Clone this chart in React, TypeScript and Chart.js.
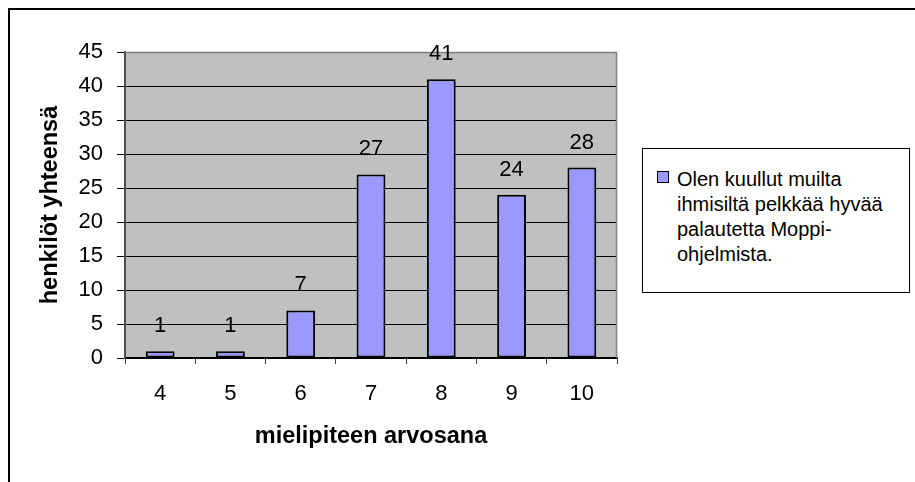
import React, { useEffect, useRef } from "react";
import { Chart, registerables } from "chart.js";

Chart.register(...registerables);

const categories = ["4", "5", "6", "7", "8", "9", "10"];
const values = [1, 1, 7, 27, 41, 24, 28];
const yMin = 0;
const yMax = 45;
const yStep = 5;
const seriesLabel = "Olen kuullut muilta ihmisiltä pelkkää hyvää palautetta Moppi-ohjelmista.";
const legendLines = ["Olen kuullut muilta", "ihmisiltä pelkkää hyvää", "palautetta Moppi-", "ohjelmista."];
const xTitle = "mielipiteen arvosana";
const yTitle = "henkilöt yhteensä";

const FONT = '"Liberation Sans", Arial, sans-serif';

const plotBackground = {
  id: "plotBackground",
  beforeDraw(chart: any) {
    const { ctx, chartArea } = chart;
    ctx.save();
    ctx.fillStyle = "#C0C0C0";
    ctx.fillRect(chartArea.left, chartArea.top, chartArea.right - chartArea.left, chartArea.bottom - chartArea.top);
    ctx.restore();
  },
  beforeDatasetsDraw(chart: any) {
    const { ctx, chartArea } = chart;
    ctx.save();
    ctx.strokeStyle = "#808080";
    ctx.lineWidth = 1.5;
    ctx.beginPath();
    ctx.moveTo(chartArea.left, chartArea.top + 0.5);
    ctx.lineTo(chartArea.right - 0.5, chartArea.top + 0.5);
    ctx.lineTo(chartArea.right - 0.5, chartArea.bottom);
    ctx.stroke();
    ctx.restore();
  },
};

const dataLabels = {
  id: "dataLabels",
  afterDatasetsDraw(chart: any) {
    const { ctx } = chart;
    const meta = chart.getDatasetMeta(0);
    ctx.save();
    ctx.fillStyle = "#000";
    ctx.font = `22px ${FONT}`;
    ctx.textAlign = "center";
    ctx.textBaseline = "middle";
    meta.data.forEach((bar: any, i: number) => {
      ctx.fillText(String(values[i]), bar.x, bar.y - 25);
    });
    ctx.restore();
  },
};

export default function App() {
  const canvasRef = useRef<HTMLCanvasElement | null>(null);

  useEffect(() => {
    if (!canvasRef.current) return;
    const chart = new Chart(canvasRef.current, {
      type: "bar",
      data: {
        labels: categories,
        datasets: [
          {
            label: seriesLabel,
            data: values,
            backgroundColor: "#9999FF",
            borderColor: "#000000",
            borderWidth: 2,
            borderSkipped: false,
            categoryPercentage: 1,
            barPercentage: 0.41,
          },
        ],
      },
      options: {
        responsive: false,
        animation: false,
        layout: { padding: { left: 36, top: 52, right: 298, bottom: 31 } },
        plugins: {
          legend: { display: false },
          tooltip: { enabled: false },
        },
        scales: {
          x: {
            grid: {
              offset: true,
              drawOnChartArea: false,
              drawTicks: true,
              tickLength: 6,
              color: "#404040",
            },
            border: { color: "#000000", width: 1.5 },
            ticks: { padding: 17, color: "#000", font: { family: FONT, size: 22 } },
            title: {
              display: true,
              text: xTitle,
              color: "#000",
              padding: 0,
              font: { family: FONT, size: 23.5, weight: "bold" },
            },
            afterFit: (s: any) => {
              s.height = 93;
            },
          },
          y: {
            min: yMin,
            max: yMax,
            ticks: { stepSize: yStep, padding: 14, color: "#000", font: { family: FONT, size: 22 } },
            grid: {
              color: (c: any) => (c.tick && c.tick.value === yMax ? "rgba(0,0,0,0)" : "#000000"),
              tickColor: "#000000",
              tickLength: 8,
              lineWidth: 1,
            },
            border: { color: "#4d4d4d", width: 2 },
            title: {
              display: true,
              text: yTitle,
              color: "#000",
              padding: 0,
              font: { family: FONT, size: 23.5, weight: "bold" },
            },
            afterFit: (s: any) => {
              s.width = 89;
            },
          },
        },
      },
      plugins: [plotBackground, dataLabels],
    });
    return () => chart.destroy();
  }, []);

  return (
    <div style={{ position: "fixed", left: 0, top: 0, width: 915, height: 482, overflow: "hidden", background: "#fff" }}>
      <div
        style={{
          position: "absolute",
          left: 8,
          top: 8,
          width: 950,
          height: 520,
          border: "2px solid #000",
          boxSizing: "border-box",
        }}
      />
      <canvas ref={canvasRef} width={915} height={482} style={{ position: "absolute", left: 0, top: 0 }} />
      <div
        style={{
          position: "absolute",
          left: 642,
          top: 148,
          width: 268,
          height: 145,
          border: "1px solid #000",
          boxSizing: "border-box",
          background: "#fff",
          fontFamily: FONT,
          fontSize: 20,
          color: "#000",
        }}
      >
        <div
          style={{
            position: "absolute",
            left: 14,
            top: 22,
            width: 12,
            height: 12,
            background: "#9999FF",
            border: "1px solid #000",
            boxSizing: "border-box",
          }}
        />
        <div style={{ position: "absolute", left: 34, top: 18, lineHeight: "25px", whiteSpace: "nowrap" }}>
          {legendLines.map((l, i) => (
            <div key={i}>{l}</div>
          ))}
        </div>
      </div>
    </div>
  );
}
